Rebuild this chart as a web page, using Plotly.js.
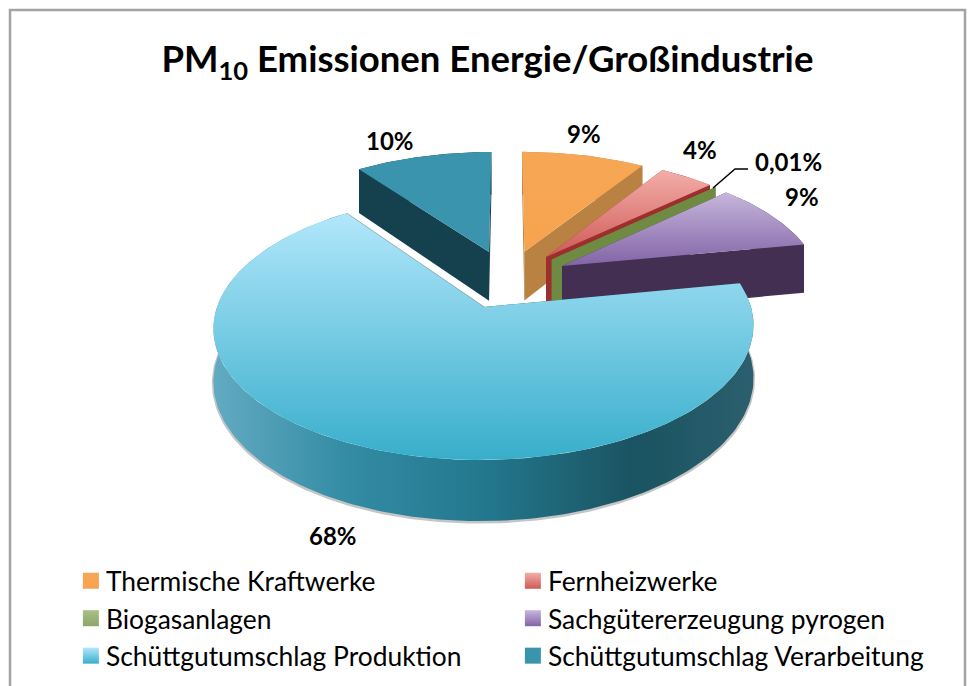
<!DOCTYPE html>
<html><head><meta charset="utf-8">
<script src="https://cdn.plot.ly/plotly-3.0.1.min.js"></script>
<style>html,body{margin:0;padding:0;background:#fff}#c{width:969px;height:686px}</style>
</head><body><div id="c"></div>
<script>
const chartTitle = 'PM<sub>10</sub> Emissionen Energie/Großindustrie';
const categories = ['Thermische Kraftwerke','Fernheizwerke','Biogasanlagen','Sachgütererzeugung pyrogen','Schüttgutumschlag Produktion','Schüttgutumschlag Verarbeitung'];
const values = [9, 4, 0.01, 9, 68, 10];
const pctLabels = ['9%','4%','0,01%','9%','68%','10%'];
const topHigh = ['#f7a754','#f3aeaa','#a8c084','#c6b6dc','#b2e7fb','#3b94ad'];
const topLow  = ['#f7a350','#cf5a56','#8fa66a','#8264a6','#38aecb','#3b94ad'];
const wallColor = ['#b98142','#9c2f2d','#6f8a42','#432f52','#1d5766','#15414f'];
const wallStops = [
  [[0,'#b98142'],[1,'#b98142']],
  [[0,'#9c2f2d'],[1,'#9c2f2d']],
  [[0,'#6f8a42'],[1,'#6f8a42']],
  [[0,'#432f52'],[1,'#432f52']],
  [[0,'#62abc2'],[0.25,'#338ba4'],[0.5,'#23788e'],[0.78,'#1a5361'],[1,'#2b5f6e']],
  [[0,'#15414f'],[1,'#15414f']]
];
const labelX = [584,700,788,802,333,390];
const labelY = [133,149,161,196,535,140];

const explode = 0.24, persp = 0.15;
const A = 267, B = 130, D = 52, cx = 484, cy = 307;
const total = values.reduce((a,b)=>a+b,0);
let acc = 0;
const slices = values.map(v => { const a0 = acc/total*2*Math.PI; acc += v; const a1 = acc/total*2*Math.PI; return {a0,a1,m:(a0+a1)/2}; });
const bigIndex = values.indexOf(Math.max(...values));
const big = slices[bigIndex];
const ox = explode*Math.sin(big.m), oy = explode*Math.cos(big.m);
function proj(X,Y,z){ const d = 1+persp*(Y-oy); return [cx-A*ox+A*X/d, cy-(B*(Y-oy)-D*z)/d]; }

const traces = [];
function poly(pts,fill,name){
  const t = {type:'scatter',mode:'lines',x:pts.map(p=>p[0]),y:pts.map(p=>p[1]),fill:'toself',
    line:{width:0},showlegend:false,hoverinfo:'name',name:name};
  if (fill.grad) t.fillgradient = fill.grad; else { t.fillcolor = fill.color; }
  traces.push(t);
}
function halo(pts,name){
  traces.push({type:'scatter',mode:'lines',x:pts.map(p=>p?p[0]:null),y:pts.map(p=>p?p[1]+1:null),
    line:{width:3,color:'rgba(90,90,90,0.35)'},showlegend:false,hoverinfo:'skip',name:name});
}
slices.forEach((s,i)=>{
  const vx = explode*Math.sin(s.m), vy = explode*Math.cos(s.m);
  const n = Math.max(2,Math.ceil((s.a1-s.a0)/0.02));
  const arc = z => { const r=[]; for(let j=0;j<=n;j++){ const a=s.a0+(s.a1-s.a0)*j/n; r.push(proj(vx+Math.sin(a),vy+Math.cos(a),z)); } return r; };
  const top = arc(0), bot = arc(1);
  const v0 = proj(vx,vy,0), v1 = proj(vx,vy,1);
  if (i === bigIndex) halo(bot.concat([null,top[n],v0]),categories[i]);
  poly([v0,top[0],bot[0],v1,v0],{color:wallColor[i]},categories[i]);
  poly([v0,top[n],bot[n],v1,v0],{color:wallColor[i]},categories[i]);
  poly(top.concat(bot.slice().reverse()),{grad:{type:'horizontal',colorscale:wallStops[i]}},categories[i]);
  poly([v0].concat(top),{grad:{type:'vertical',colorscale:[[0,topLow[i]],[1,topHigh[i]]]}},categories[i]);
});
categories.forEach((c,i)=>traces.push({type:'scatter',mode:'markers',x:[null],y:[null],showlegend:true,
  name:'<span style="font-size:26.4px">'+c+'</span>',
  marker:{symbol:'square',size:16,color:topHigh[i],gradient:{type:'vertical',color:topLow[i]}}}));

const layout = {
  width:969,height:686,margin:{l:0,r:0,t:0,b:0,autoexpand:false},paper_bgcolor:'#fff',plot_bgcolor:'#fff',
  font:{family:'Lato, "Open Sans", sans-serif',color:'#000'},
  title:{text:chartTitle,x:0.503,xanchor:'center',y:0.913,yanchor:'middle',automargin:false,font:{size:36.5,weight:700,family:'Lato',color:'#000'}},
  xaxis:{range:[0,969],visible:false,fixedrange:true},
  yaxis:{range:[686,0],visible:false,fixedrange:true},
  showlegend:true,
  legend:{orientation:'h',x:0.068,xanchor:'left',y:0.188,yanchor:'top',entrywidth:397,entrywidthmode:'pixels',
    font:{size:26.5,family:'Lato',color:'#000'},bgcolor:'rgba(0,0,0,0)'},
  shapes:[
    {type:'rect',xref:'x',yref:'y',x0:10,y0:10,x1:965,y1:720,line:{color:'#a3a3a3',width:2.5}},
    {type:'path',xref:'x',yref:'y',path:'M713,188 L735,169 L748,169',line:{color:'#000',width:1.5}}
  ],
  annotations:pctLabels.map((t,i)=>({text:t,x:labelX[i],y:labelY[i],xref:'x',yref:'y',showarrow:false,
    xanchor:'center',yanchor:'middle',font:{size:24,weight:700,family:'Lato',color:'#000'}}))
};
Plotly.newPlot('c',traces,layout,{displayModeBar:false,staticPlot:true}).then(()=>{
  document.querySelectorAll('.legend .legendpoints').forEach(g=>g.setAttribute('transform','translate(5,0)'));
});
</script></body></html>
